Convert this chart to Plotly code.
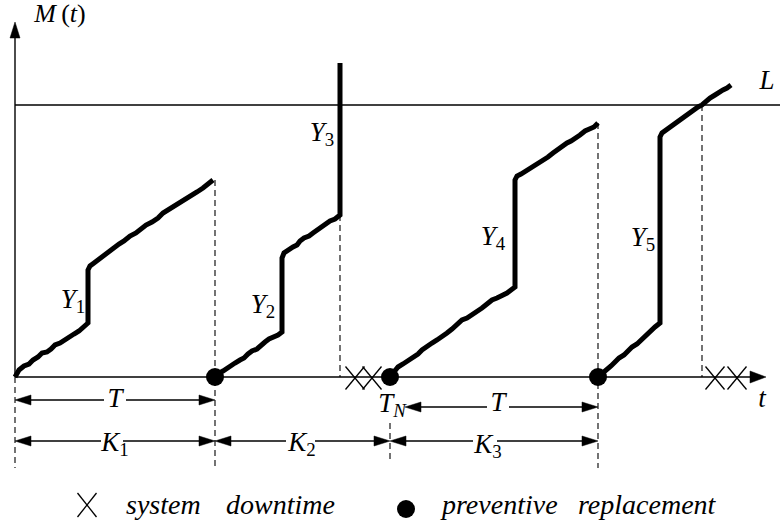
import plotly.graph_objects as go

# ---- degradation paths M(t), one per renewal cycle (t, M) ----
cycle1_t = [0, 4, 9, 14, 18, 23, 27, 32, 36, 40, 45, 49, 54, 59, 64, 69, 73,
            73, 75, 79, 84, 89, 94, 99, 104, 109, 115, 121, 126, 131, 137, 143,
            148, 153, 159, 165, 171, 176, 182, 188, 193, 198]
cycle1_m = [0, 7, 11, 13, 17, 20, 24, 25, 28, 32, 34, 37, 40, 43, 46, 50, 54,
            107, 111, 114, 118, 122, 125, 129, 133, 136, 141, 144, 148, 152, 155, 159,
            164, 167, 170, 174, 178, 181, 185, 189, 193, 197]

cycle2_t = [200, 204, 208, 212, 216, 220, 225, 229, 233, 237, 242, 246, 250, 254, 259, 263, 267,
            267, 269, 273, 278, 282, 285, 289, 294, 298, 302, 307, 311, 315, 320, 325,
            325]
cycle2_m = [0, 4, 6, 9, 12, 14, 17, 19, 23, 26, 28, 32, 35, 38, 40, 42, 45,
            119, 124, 127, 130, 132, 136, 139, 141, 144, 147, 150, 154, 156, 158, 162,
            314]

cycle3_t = [375, 379, 383, 388, 393, 398, 403, 407, 412, 417, 422, 427, 432, 437, 442, 447,
            452, 457, 462, 467, 472, 477, 482, 487, 492, 496, 500,
            500, 502, 506, 511, 515, 519, 524, 528, 533, 538, 542, 547, 552, 556, 561,
            565, 570, 574, 579, 583]
cycle3_m = [0, 5, 10, 13, 16, 20, 23, 27, 31, 34, 37, 40, 44, 48, 52, 57,
            59, 62, 65, 69, 73, 77, 79, 81, 84, 87, 90,
            197, 201, 203, 206, 209, 212, 215, 217, 220, 224, 227, 231, 234, 236, 239,
            242, 246, 248, 250, 254]

cycle4_t = [583, 587, 592, 596, 600, 604, 609, 613, 617, 622, 626, 630, 635, 640, 645,
            645, 647, 651, 655, 659, 663, 667, 671, 675, 679, 683, 687, 691, 695, 700,
            704, 708, 712, 716]
cycle4_m = [0, 3, 8, 11, 15, 19, 22, 27, 30, 33, 37, 41, 46, 50, 54,
            240, 244, 247, 249, 252, 255, 258, 261, 265, 267, 270, 272, 276, 279, 282,
            285, 287, 289, 292]

# ---- events ----
level_L = 272                      # failure threshold L
pr_times = [200, 375, 583]         # preventive replacements
downtime_t = [340, 357, 700, 722]  # system downtime marks
t_end = 751                        # end of time axis
m_end = 355                        # end of M axis

# dashed guide lines: time, upper and lower M value
guide_t = [0, 200, 325, 375, 583, 687]
guide_top = [0, 197, 162, -46, 254, 272]
guide_bot = [-91, -91, 0, -83, -91, 0]

# dimension rows: start, end, row level, gap left open for the label, label
dims = [
    (0, 200, -23, (89, 111), "<i>T</i>", 100, -23),
    (390, 583, -30, (472, 494), "<i>T</i>", 483, -27),
    (0, 200, -64, (86, 108), "<i>K</i><sub>1</sub>", 100, -67),
    (200, 375, -64, (271, 300), "<i>K</i><sub>2</sub>", 287, -67),
    (375, 583, -64, (458, 482), "<i>K</i><sub>3</sub>", 473, -69),
]

FONT = "Liberation Serif"
fig = go.Figure()


def seg_trace(xs, ys, width, dash=None):
    return go.Scatter(x=xs, y=ys, mode="lines", hoverinfo="skip",
                      line=dict(color="black", width=width, dash=dash))


def arrowhead(tip_x, tip_y, direction, length=15, half=5):
    dx, dy = {"right": (-1, 0), "left": (1, 0), "up": (0, -1)}[direction]
    bx, by = tip_x + dx * length, tip_y + dy * length
    px, py = -dy * half, dx * half
    return go.Scatter(x=[tip_x, bx + px, bx - px, tip_x],
                      y=[tip_y, by + py, by - py, tip_y],
                      mode="lines", fill="toself", fillcolor="black",
                      line=dict(color="black", width=0.5), hoverinfo="skip")


def crosses(ts, ms, hw=9.5, hh=11.5):
    xs, ys = [], []
    for t, m in zip(ts, ms):
        xs += [t - hw, t + hw, None, t - hw, t + hw, None]
        ys += [m + hh, m - hh, None, m - hh, m + hh, None]
    return xs, ys


def text_trace(xs, ys, texts, size=27, position="middle center"):
    return go.Scatter(x=xs, y=ys, text=texts, mode="text", hoverinfo="skip",
                      textposition=position,
                      textfont=dict(family=FONT, size=size, color="black"))


# axes with arrows
fig.add_trace(seg_trace([0, t_end - 10], [0, 0], 1.4))
fig.add_trace(arrowhead(t_end, 0, "right", 16, 6))
fig.add_trace(seg_trace([0, 0], [0, m_end - 10], 1.4))
fig.add_trace(arrowhead(0, m_end, "up", 16, 5))

# threshold L
fig.add_trace(seg_trace([0, 765], [level_L, level_L], 1.6))

# dashed guides
gx, gy = [], []
for t, a, b in zip(guide_t, guide_top, guide_bot):
    gx += [t, t, None]
    gy += [a, b, None]
fig.add_trace(seg_trace(gx, gy, 1.1, dash="6px,4px"))

# dimension arrows, with a gap where the label sits
for a, b, lev, (g0, g1), _, _, _ in dims:
    fig.add_trace(seg_trace([a + 8, g0, None, g1, b - 8], [lev, lev, None, lev, lev], 1.3))
    fig.add_trace(arrowhead(a, lev, "left", 16, 5))
    fig.add_trace(arrowhead(b, lev, "right", 16, 5))

# degradation paths
for xs, ys in [(cycle1_t, cycle1_m), (cycle2_t, cycle2_m),
               (cycle3_t, cycle3_m), (cycle4_t, cycle4_m)]:
    fig.add_trace(seg_trace(xs, ys, 5))

# preventive replacement dots
fig.add_trace(go.Scatter(x=pr_times, y=[0] * len(pr_times), mode="markers",
                         marker=dict(color="black", size=18), hoverinfo="skip"))

# downtime crosses
cx, cy = crosses(downtime_t, [-1] * len(downtime_t))
fig.add_trace(seg_trace(cx, cy, 1.3))

# legend symbols
lx, ly = crosses([72], [-128], hw=9.5, hh=12)
fig.add_trace(seg_trace(lx, ly, 1.3))
fig.add_trace(go.Scatter(x=[391], y=[-132], mode="markers",
                         marker=dict(color="black", size=18), hoverinfo="skip"))

# labels
fig.add_trace(text_trace([45], [362], ["<i>M</i>\u2009(<i>t</i>)"], size=26))
fig.add_trace(text_trace(
    [752, 747, 58, 248, 307, 478, 628, 377],
    [295, -23, 76, 71, 243, 139, 138, -28],
    ["<i>L</i>", "<i>t</i>",
     "<i>Y</i><sub>1</sub>", "<i>Y</i><sub>2</sub>", "<i>Y</i><sub>3</sub>",
     "<i>Y</i><sub>4</sub>", "<i>Y</i><sub>5</sub>", "<i>T</i><sub><i>N</i></sub>"]))
fig.add_trace(text_trace([d[5] for d in dims], [d[6] for d in dims], [d[4] for d in dims]))

# legend texts
fig.add_trace(text_trace([111, 211, 427, 563], [-130] * 4,
                         ["<i>system</i>", "<i>downtime</i>",
                          "<i>preventive</i>", "<i>replacement</i>"],
                         size=28, position="middle right"))

fig.update_layout(
    width=780, height=529,
    margin=dict(l=0, r=0, t=0, b=0),
    paper_bgcolor="white", plot_bgcolor="white",
    showlegend=False,
    font=dict(family=FONT),
    xaxis=dict(range=[-15, 765], visible=False, fixedrange=True),
    yaxis=dict(range=[-152, 377], visible=False, fixedrange=True),
)

fig.write_html("out.html")
